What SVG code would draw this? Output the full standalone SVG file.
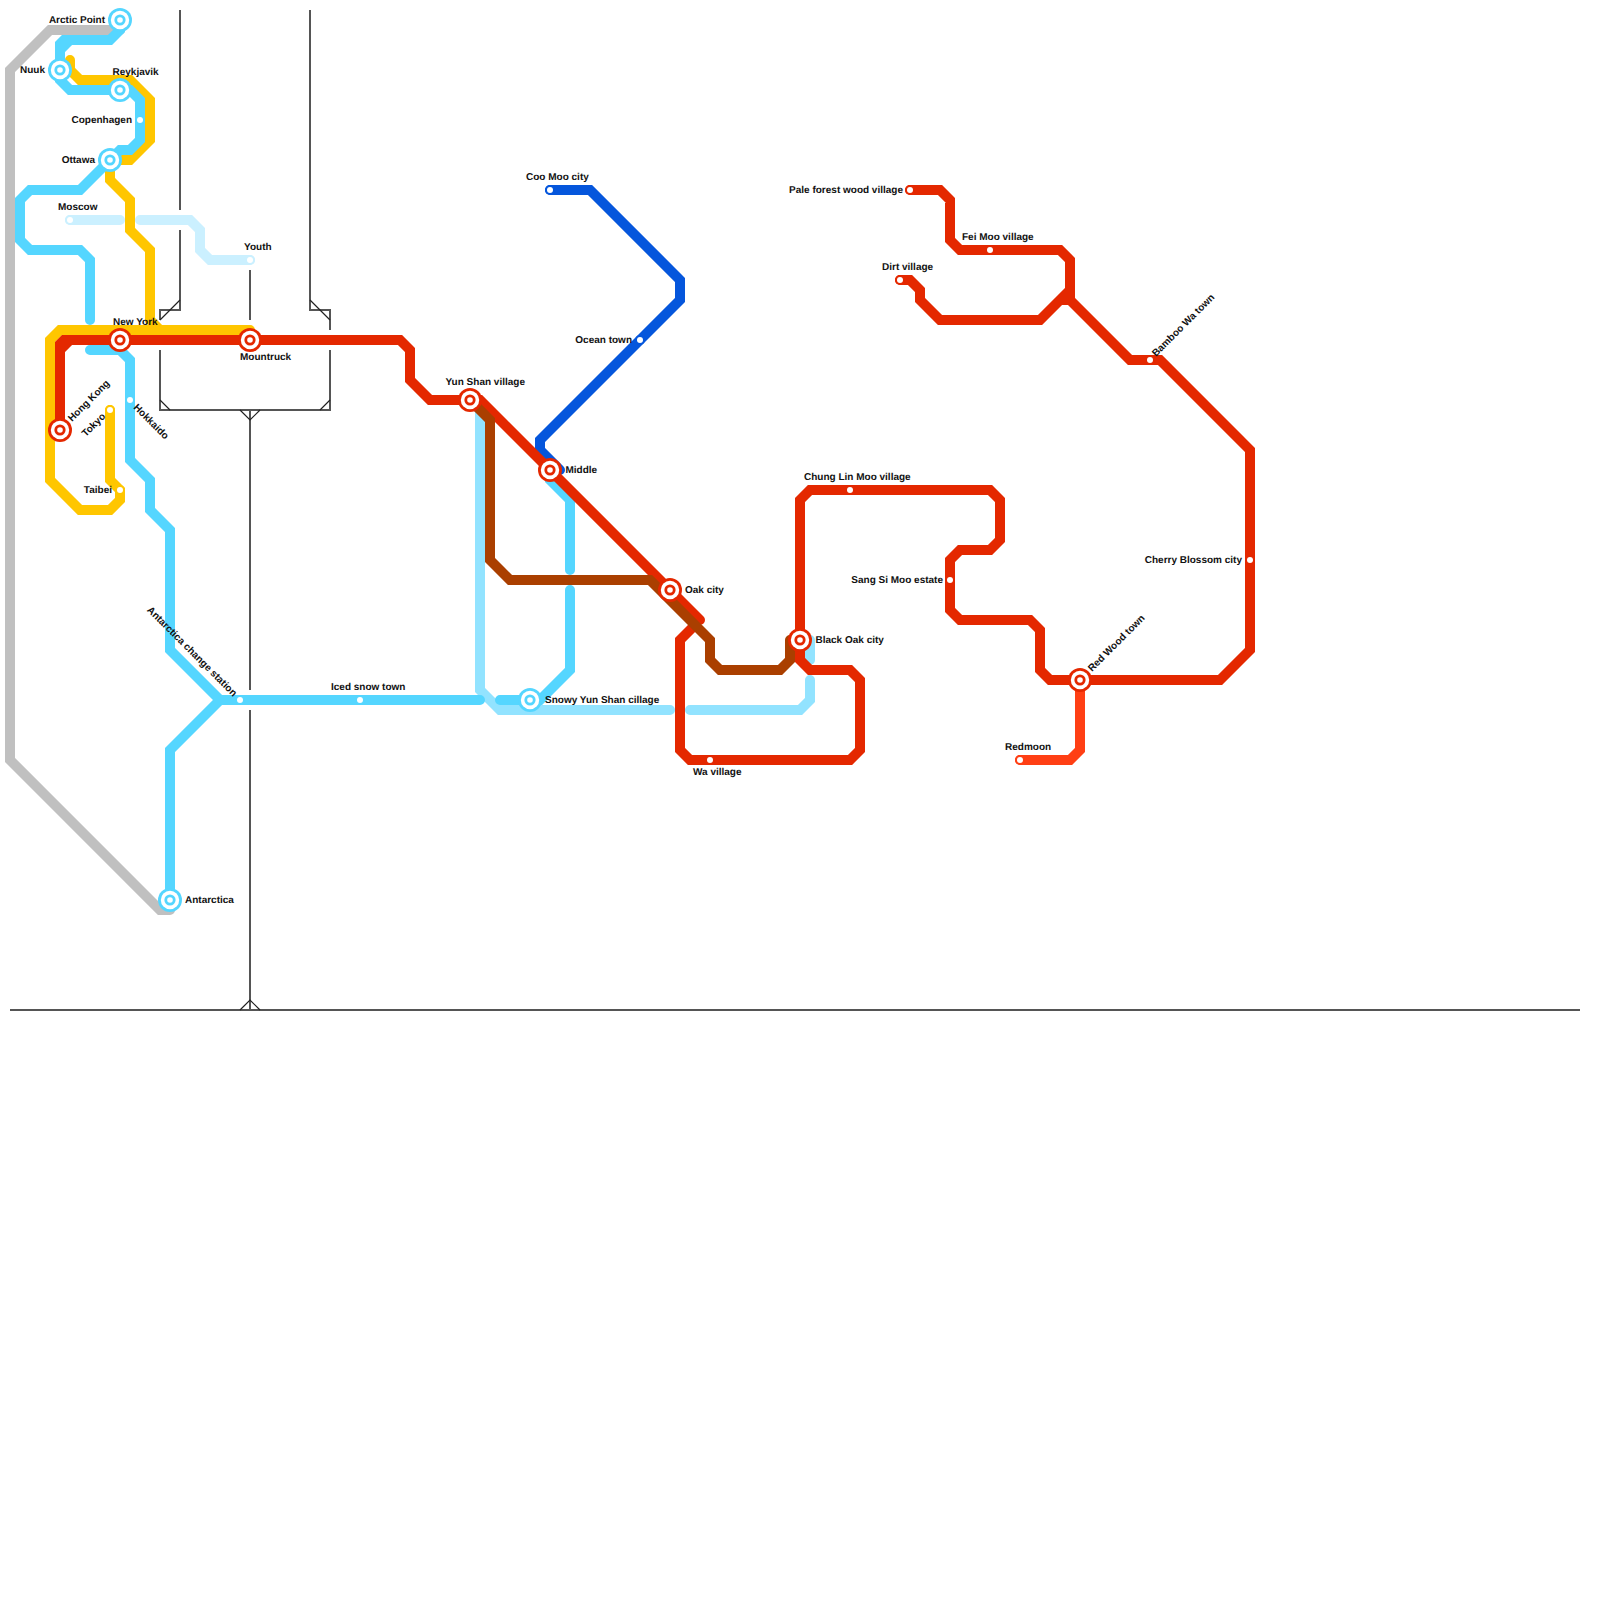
<svg xmlns="http://www.w3.org/2000/svg" width="1600" height="1600" viewBox="0 0 1600 1600">
<style>
.l{fill:none;stroke-width:10;stroke-linecap:round;stroke-linejoin:miter}
.gray{stroke:#c0c0c0}
.yellow{stroke:#ffc600}.blue{stroke:#55d6ff}.light{stroke:#92e3ff}.pale{stroke:#cbf0ff}
.navy{stroke:#0556dc}.red{stroke:#e42800}.brown{stroke:#aa3f00}.moon{stroke:#ff3f14}
.b{fill:none;stroke:#555;stroke-width:2}.d{fill:none;stroke:#222;stroke-width:1.2}
text{font-family:"Liberation Sans",Arial,sans-serif;font-size:10px;font-weight:bold;fill:#111;text-rendering:geometricPrecision}
.e{text-anchor:end}
.cb{fill:#55d6ff}.cr{fill:#e42800}.cy{fill:#ffc600}.cp{fill:#cbf0ff}.cn{fill:#0556dc}.cm{fill:#ff3f14}.w{fill:#fff}
</style>
<defs>
<g id="xb"><circle r="12" class="cb"/><circle r="9.200" class="w"/><circle r="5.600" class="cb"/><circle r="2.800" class="w"/></g>
<g id="xr"><circle r="12" class="cr"/><circle r="9.200" class="w"/><circle r="5.600" class="cr"/><circle r="2.800" class="w"/></g>
<g id="sb"><circle r="5" class="cb"/><circle r="3" class="w"/></g>
<g id="sr"><circle r="5" class="cr"/><circle r="3" class="w"/></g>
<g id="sy"><circle r="5" class="cy"/><circle r="3" class="w"/></g>
<g id="sp"><circle r="5" class="cp"/><circle r="3" class="w"/></g>
<g id="sn"><circle r="5" class="cn"/><circle r="3" class="w"/></g>
<g id="sm"><circle r="5" class="cm"/><circle r="3" class="w"/></g>
</defs>
<g id="background-lines">
<path class="b" d="M180 10V210M180 230V310H160V320M310 10V310H330V330M250 270V320M160 350V410H330V350M250 410V690M250 710V1010M10 1010H1580"/>
<path class="d" d="M180 300L160 320M310 300L330 320M160 400L170 410M330 400L320 410M240 410L250 420L260 410M240 1010L250 1000L260 1010"/>
</g>
<g id="connectors">
<path class="l gray" d="M120 30H50L10 70V760L160 910H170"/>
<path class="l pale" d="M70 220H120M140 220H190L200 230V250L210 260H250"/>
<path class="l yellow" d="M70 60V70L80 80H130L150 100V140L130 160H110V180L130 200V230L150 250V320L160 330H250M250 330H60L50 340V480L80 510H110L120 500V490L110 480V410"/>
<path class="l light" d="M470 400L480 410V690L500 710H670M690 710H800L810 700V680M810 660V640"/>
<path class="l blue" d="M120 20V30L110 40H70L60 50V80L70 90H130L140 100V140L130 150H120L80 190H30L20 200V240L30 250H80L90 260V320M60 50V44L64 40H70M90 350H120L130 360V460L150 480V510L170 530V650L220 700M170 900V750L220 700H480M500 700H540L570 670V590M570 570V500L550 480V470"/>
<path class="l navy" d="M550 190H590L680 280V300L540 440V450L560 470"/>
<path class="l red" d="M60 430V350L70 340H400L410 350V380L430 400H480L700 620M60 350V344L64 340H70M695 625L680 640V750L690 760H850L860 750V680L850 670H810L800 660V500L810 490H990L1000 500V540L990 550H960L950 560V610L960 620H1030L1040 630V670L1050 680H1220L1250 650V450L1160 360H1130L1070 300V260L1060 250H960L950 240V200L940 190H910M900 280H910L920 290V300L940 320H1040L1070 290M1060 300H1070"/>
<path class="l moon" d="M1020 760H1070L1080 750V680"/>
<path class="l brown" d="M470 400L490 420V560L510 580H650L710 640V660L720 670H780L790 660V640"/>
</g>
<g id="arctic-point"><use href="#xb" x="120" y="20"/><text class="e" x="105" y="23">Arctic Point</text></g>
<g id="nuuk"><use href="#xb" x="60" y="70"/><text class="e" x="45" y="73">Nuuk</text></g>
<g id="reykjavik"><use href="#xb" x="120" y="90"/><text x="112.500" y="75">Reykjavik</text></g>
<g id="copenhagen"><use href="#sb" x="140" y="120"/><text class="e" x="132" y="123">Copenhagen</text></g>
<g id="ottawa"><use href="#xb" x="110" y="160"/><text class="e" x="95" y="163">Ottawa</text></g>
<g id="moscow"><use href="#sp" x="70" y="220"/><text x="58" y="210">Moscow</text></g>
<g id="youth"><use href="#sp" x="250" y="260"/><text x="244" y="250">Youth</text></g>
<g id="new-york"><use href="#xr" x="120" y="340"/><text x="113" y="325">New York</text></g>
<g id="mountruck"><use href="#xr" x="250" y="340"/><text x="240" y="360">Mountruck</text></g>
<g id="hong-kong"><use href="#xr" x="60" y="430"/><text transform="translate(72 422) rotate(-45)">Hong Kong</text></g>
<g id="tokyo"><use href="#sy" x="110" y="410"/><text class="e" transform="translate(106 417) rotate(-45)">Tokyo</text></g>
<g id="hokkaido"><use href="#sb" x="130" y="400"/><text transform="translate(133 408) rotate(45)">Hokkaido</text></g>
<g id="taibei"><use href="#sy" x="120" y="490"/><text class="e" x="112" y="493">Taibei</text></g>
<g id="antarctica-change-station"><use href="#sb" x="240" y="700"/><text class="e" transform="translate(233 697) rotate(45)">Antarctica change station</text></g>
<g id="iced-snow-town"><use href="#sb" x="360" y="700"/><text x="331" y="690">Iced snow town</text></g>
<g id="antarctica"><use href="#xb" x="170" y="900"/><text x="185" y="903">Antarctica</text></g>
<g id="yun-shan-village"><use href="#xr" x="470" y="400"/><text x="445.500" y="385">Yun Shan village</text></g>
<g id="middle"><use href="#xr" x="550" y="470"/><text x="565.500" y="473">Middle</text></g>
<g id="oak-city"><use href="#xr" x="670" y="590"/><text x="685" y="593">Oak city</text></g>
<g id="snowy-yun-shan-cillage"><use href="#xb" x="530" y="700"/><text x="545" y="703">Snowy Yun Shan cillage</text></g>
<g id="black-oak-city"><use href="#xr" x="800" y="640"/><text x="815.500" y="643">Black Oak city</text></g>
<g id="wa-village"><use href="#sr" x="710" y="760"/><text x="693" y="775">Wa village</text></g>
<g id="coo-moo-city"><use href="#sn" x="550" y="190"/><text x="526" y="180">Coo Moo city</text></g>
<g id="ocean-town"><use href="#sn" x="640" y="340"/><text class="e" x="632" y="343">Ocean town</text></g>
<g id="chung-lin-moo-village"><use href="#sr" x="850" y="490"/><text x="804" y="480">Chung Lin Moo village</text></g>
<g id="sang-si-moo-estate"><use href="#sr" x="950" y="580"/><text class="e" x="943" y="583">Sang Si Moo estate</text></g>
<g id="pale-forest-wood-village"><use href="#sr" x="910" y="190"/><text class="e" x="903" y="193">Pale forest wood village</text></g>
<g id="fei-moo-village"><use href="#sr" x="990" y="250"/><text x="962" y="240">Fei Moo village</text></g>
<g id="dirt-village"><use href="#sr" x="900" y="280"/><text x="882" y="270">Dirt village</text></g>
<g id="bamboo-wa-town"><use href="#sr" x="1150" y="360"/><text transform="translate(1156 357) rotate(-45)">Bamboo Wa town</text></g>
<g id="cherry-blossom-city"><use href="#sr" x="1250" y="560"/><text class="e" x="1242" y="563">Cherry Blossom city</text></g>
<g id="red-wood-town"><use href="#xr" x="1080" y="680"/><text transform="translate(1092 672) rotate(-45)">Red Wood town</text></g>
<g id="redmoon"><use href="#sm" x="1020" y="760"/><text x="1005" y="750">Redmoon</text></g>
</svg>
